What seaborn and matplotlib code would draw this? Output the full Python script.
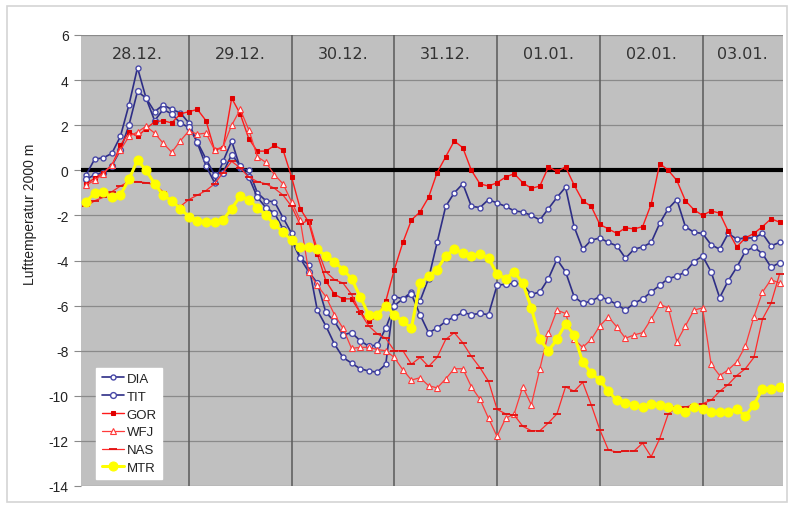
import matplotlib
matplotlib.use("Agg")
import matplotlib.pyplot as plt
import seaborn as sns
import numpy as np
import pandas as pd
from matplotlib.patches import Rectangle

# ---------------- data (2-hourly, hours since 28.12. 00:00) ----------------
hours = list(range(0, 163, 2))

DIA = [-0.2, 0.5, 0.55, 0.75, 1.5, 2.9, 4.55, 3.2, 2.6, 2.9, 2.7, 2.55,
       2.1, 1.2, 0.2, -0.55, 0.4, 1.3, 0.1, 0.0, -1.0, -1.35, -1.4, -2.1,
       -2.8, -3.9, -4.2, -6.2, -6.9, -7.7, -8.3, -8.55, -8.8, -8.9, -8.95, -8.6,
       -5.6, -5.7, -5.4, -5.8, -4.8, -3.2, -1.6, -1.0, -0.6, -1.6, -1.65, -1.3,
       -1.45, -1.6, -1.8, -1.85, -2.0, -2.2, -1.7, -1.2, -0.75, -2.5, -3.5, -3.1,
       -3.0, -3.2, -3.35, -3.9, -3.5, -3.4, -3.2, -2.35, -1.7, -1.3, -2.5, -2.75,
       -2.8, -3.3, -3.5, -2.8, -3.05, -3.0, -3.0, -2.8, -3.35, -3.2]

TIT = [-0.4, -0.2, -0.1, 0.2, 0.9, 2.0, 3.5, 3.2, 2.2, 2.7, 2.5, 2.1,
       1.9, 1.25, 0.5, -0.2, -0.1, 0.7, 0.2, -0.3, -1.2, -1.65, -1.9, -2.6,
       -3.1, -3.9, -4.5, -5.0, -6.3, -6.7, -7.3, -7.2, -7.55, -7.8, -7.75, -7.0,
       -6.0, -5.7, -5.5, -6.4, -7.2, -7.0, -6.7, -6.5, -6.3, -6.4, -6.35, -6.4,
       -5.1, -5.05, -5.0, -5.05, -5.5, -5.4, -4.8, -3.95, -4.5, -5.6, -5.9, -5.8,
       -5.6, -5.75, -5.95, -6.2, -5.9, -5.7, -5.4, -5.1, -4.8, -4.7, -4.5, -4.05,
       -3.8, -4.5, -5.65, -4.9, -4.3, -3.6, -3.4, -3.7, -4.3, -4.1]

GOR = [-0.6, -0.35, -0.1, 0.2, 1.1, 1.7, 1.5, 1.85, 2.15, 2.2, 2.1, 2.5,
       2.6, 2.7, 2.2, 0.9, 1.0, 3.2, 2.5, 1.4, 0.85, 0.85, 1.1, 0.9,
       -0.3, -1.7, -2.3, -3.7, -4.9, -5.5, -5.7, -5.7, -6.3, -6.7, -6.5, -5.8,
       -4.4, -3.2, -2.2, -1.85, -1.2, -0.1, 0.6, 1.3, 1.0, 0.0, -0.6, -0.7,
       -0.55, -0.3, -0.15, -0.55, -0.8, -0.7, 0.15, -0.05, 0.15, -0.65, -1.35, -1.6,
       -2.4, -2.6, -2.8, -2.55, -2.6, -2.5, -1.5, 0.3, 0.0, -0.45, -1.35, -1.75,
       -2.0, -1.8, -1.9, -2.7, -3.4, -3.0, -2.8, -2.5, -2.15, -2.3]

WFJ = [-0.65, -0.45, -0.15, 0.25, 0.9, 1.5, 1.7, 1.95, 1.65, 1.2, 0.8, 1.3,
       1.75, 1.6, 1.65, 0.9, 1.05, 2.0, 2.7, 1.8, 0.6, 0.35, -0.2, -0.6,
       -1.4, -2.2, -4.5, -5.1, -5.6, -6.4, -7.0, -7.9, -7.85, -7.85, -7.95, -8.0,
       -8.3, -8.85, -9.3, -9.2, -9.55, -9.65, -9.25, -8.8, -8.8, -9.6, -10.15, -11.0,
       -11.8, -11.0, -10.8, -9.6, -10.4, -8.8, -7.2, -6.2, -6.35, -7.5, -7.85, -7.5,
       -6.9, -6.5, -6.95, -7.45, -7.3, -7.2, -6.6, -5.95, -6.1, -7.6, -6.9, -6.2,
       -6.1, -8.6, -9.1, -8.85, -8.5, -7.8, -6.5, -5.4, -4.85, -5.0]

NAS = [-1.6, -1.35, -1.2, -0.95, -0.7, -0.5, -0.5, -0.55, -0.65, -0.95, -1.4, -1.6,
       -1.3, -1.1, -0.9, -0.6, -0.1, 0.4, 0.1, -0.3, -0.5, -0.6, -0.8, -1.1,
       -1.6, -2.4, -2.2, -3.5, -4.5, -4.85, -5.0, -5.5, -6.3, -6.9, -7.25, -7.45,
       -8.0, -8.0, -8.6, -8.3, -8.7, -8.3, -7.5, -7.2, -7.65, -8.25, -8.75, -9.35,
       -10.6, -10.8, -10.85, -11.35, -11.55, -11.55, -11.2, -10.8, -9.6, -9.8, -9.4, -10.4,
       -11.5, -12.4, -12.5, -12.45, -12.45, -12.1, -12.7, -11.9, -10.8, -10.5, -10.5, -10.4,
       -10.35, -10.2, -9.8, -9.5, -9.1, -8.8, -8.3, -6.6, -5.9, -4.6]

MTR = [-1.4, -1.0, -0.95, -1.2, -1.1, -0.4, 0.45, 0.0, -0.6, -1.1, -1.35, -1.7,
       -2.05, -2.25, -2.3, -2.3, -2.2, -1.7, -1.15, -1.3, -1.65, -2.0, -2.4, -2.75,
       -3.1, -3.4, -3.4, -3.5, -3.8, -4.05, -4.4, -4.8, -5.6, -6.4, -6.4, -6.0,
       -6.4, -6.7, -7.0, -5.0, -4.7, -4.4, -3.8, -3.5, -3.65, -3.8, -3.7, -3.9,
       -4.6, -4.8, -4.5, -5.0, -6.1, -7.5, -8.0, -7.5, -6.8, -7.3, -8.5, -9.0,
       -9.3, -9.8, -10.2, -10.3, -10.4, -10.5, -10.35, -10.4, -10.5, -10.6, -10.7, -10.5,
       -10.6, -10.7, -10.7, -10.7, -10.6, -10.9, -10.4, -9.7, -9.7, -9.6]

day_labels = ["28.12.", "29.12.", "30.12.", "31.12.", "01.01.", "02.01.", "03.01."]
y_ticks = [-14, -12, -10, -8, -6, -4, -2, 0, 2, 4, 6]

# ---------------- styling ----------------
sns.set_theme(style="white")
plt.rcParams["font.family"] = ["Liberation Sans", "DejaVu Sans"]
plt.rcParams["axes.unicode_minus"] = False

fig = plt.figure(figsize=(7.88, 5.06), dpi=100)
ax = fig.add_axes([81 / 788, 1 - 487 / 506, (783 - 81) / 788, (487 - 36) / 506])
ax.set_facecolor("#c0c0c0")

# outer frame
fig.patches.append(Rectangle((7 / 788, 3 / 506), 780 / 788, 496 / 506,
                             transform=fig.transFigure, fill=False,
                             edgecolor="#d4d4d4", linewidth=1.2))

# grid
for yv in y_ticks:
    ax.axhline(yv, color="#8a8a8a", linewidth=0.9, zorder=1)
for d in range(1, 7):
    ax.axvline(d * 24, color="#5a5a5a", linewidth=1.1, zorder=1)
ax.axhline(0, color="black", linewidth=3, zorder=2)

styles = [
    ("DIA", DIA, dict(color="#2e2e86", marker="o", markersize=3.6, markerfacecolor="white",
                      markeredgecolor="#4848a8", markeredgewidth=1.0, linewidth=1.2)),
    ("TIT", TIT, dict(color="#2e2e86", marker="o", markersize=4.2, markerfacecolor="white",
                      markeredgecolor="#4848a8", markeredgewidth=1.0, linewidth=1.2)),
    ("GOR", GOR, dict(color="#ff1a1a", marker="s", markersize=3.2, markerfacecolor="#e00000",
                      markeredgecolor="#e00000", linewidth=1.0)),
    ("WFJ", WFJ, dict(color="#ff3a3a", marker="^", markersize=4.0, markerfacecolor="white",
                      markeredgecolor="#ff3a3a", markeredgewidth=0.8, linewidth=0.9)),
    ("NAS", NAS, dict(color="#ff2a2a", marker="_", markersize=6, markeredgecolor="#e01010",
                      markeredgewidth=1.3, linewidth=0.9)),
    ("MTR", MTR, dict(color="#ffff00", marker="o", markersize=6.5, markerfacecolor="#ffff00",
                      markeredgecolor="#ffff00", linewidth=2.2)),
]

for i, (name, vals, kw) in enumerate(styles):
    sns.lineplot(x=hours, y=vals, ax=ax, label=name, zorder=3 + i, **kw)

ax.set_xlim(-1.2, 162.8)
ax.set_ylim(-14, 6)
ax.set_yticks(y_ticks)
ax.set_yticklabels([str(v) for v in y_ticks])
ax.set_xticks([])
ax.tick_params(axis="y", direction="out", length=5, width=0.8, color="#8a8a8a",
               labelsize=10, labelcolor="#222222", pad=4, left=True)
for s in ax.spines.values():
    s.set_visible(False)

ax.set_xlabel("")
ax.set_ylabel("Lufttemperatur 2000 m", fontsize=10, color="#222222")
ax.yaxis.set_label_coords(-0.063, 0.605)

# day labels
for i, lab in enumerate(day_labels):
    xc = i * 24 + (12 if i < 6 else (162.8 - 144) / 2)
    ax.text(xc, 5.2, lab, ha="center", va="center", fontsize=11.5,
            color="#333333", family="DejaVu Sans", zorder=10)

leg = ax.legend(loc="lower left", bbox_to_anchor=(0.022, 0.015), frameon=True,
                fontsize=9.5, handlelength=1.7, handletextpad=0.2,
                labelspacing=0.42, borderpad=0.4, borderaxespad=0)
leg.get_frame().set_facecolor("white")
leg.get_frame().set_edgecolor("white")
leg.get_frame().set_alpha(1)
leg.get_frame().set_boxstyle("square", pad=0)
for t in leg.get_texts():
    t.set_color("#222222")

fig.savefig("out.png", dpi=100)
